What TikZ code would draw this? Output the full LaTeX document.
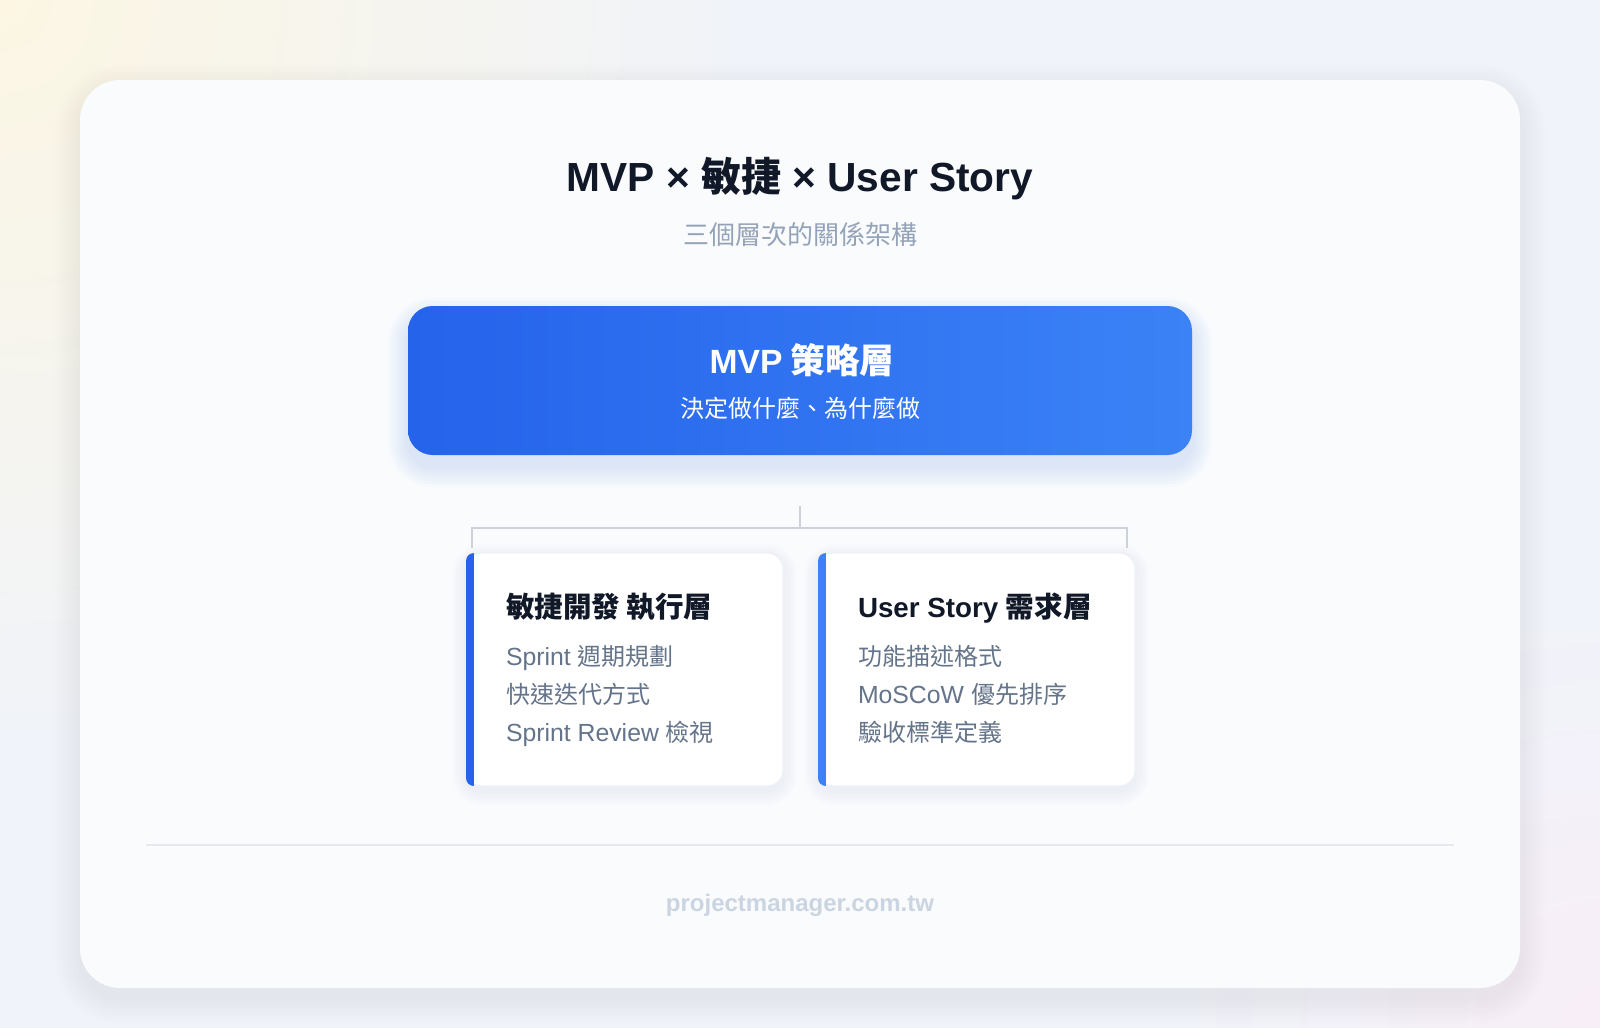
\documentclass[tikz,border=0pt]{standalone}
\usepackage{fontspec}
\setmainfont{Noto Sans CJK TC}
\newfontfamily\lat{Liberation Sans}
\newcommand\lt[2]{{\lat\fontsize{#1}{#1}\selectfont #2}}
\usetikzlibrary{calc}
\definecolor{bgc}{HTML}{F0F3F9}
\definecolor{warm}{HTML}{FCF6E3}
\definecolor{pinkish}{HTML}{F8EEF8}
\definecolor{cardc}{HTML}{FAFBFD}
\definecolor{ink}{HTML}{111827}
\definecolor{subc}{HTML}{94A3B8}
\definecolor{itemc}{HTML}{64748B}
\definecolor{footc}{HTML}{CBD5E1}
\definecolor{connc}{HTML}{CDD2DA}
\definecolor{sepc}{HTML}{E6E9EE}
\definecolor{blueA}{HTML}{2563EB}
\definecolor{blueB}{HTML}{3B82F6}
\definecolor{cardline}{HTML}{EEF1F5}
\definecolor{shadc}{HTML}{64748B}
\begin{document}
\begin{tikzpicture}[x=0.75pt,y=-0.75pt,
  every node/.style={inner sep=0pt,outer sep=0pt},
  titletxt/.style={font=\bfseries\fontsize{30pt}{34pt}\selectfont,text=ink},
  subtxt/.style={font=\fontsize{19.5pt}{22pt}\selectfont,text=subc},
  mvpbox/.style={rectangle,rounded corners=18.5pt,left color=blueA,right color=blueB,
    minimum width=588pt,minimum height=111.75pt},
  glow/.style={fill=blueA,fill opacity=0.018},
  soft/.style={fill=shadc,fill opacity=0.006},
  faint/.style={fill=shadc,fill opacity=0.0045},
  mvptitle/.style={font=\bfseries\fontsize{26pt}{30pt}\selectfont,text=white},
  mvpsub/.style={font=\fontsize{18pt}{21pt}\selectfont,text=white},
  cardbox/.style={rectangle,rounded corners=12pt,fill=white,draw=cardline,line width=0.8pt,
    minimum width=237.75pt,minimum height=174.75pt},
  cardtitle/.style={font=\bfseries\fontsize{21.4pt}{24pt}\selectfont,text=ink,anchor=base west},
  itemtxt/.style={font=\fontsize{18pt}{21pt}\selectfont,text=itemc,anchor=base west},
  conn/.style={draw=connc,line width=1.5pt},
  foot/.style={font=\lat\bfseries\fontsize{18pt}{20pt}\selectfont,text=footc}
]
\useasboundingbox (0,0) rectangle (1600,1028);
% background
\fill[bgc] (0,0) rectangle (1600,1028);
\shade[inner color=warm,outer color=bgc] (0,0) circle (560pt);
\shade[inner color=pinkish,outer color=bgc] (1600,1028) circle (320pt);
% main card with soft shadow
\foreach \g in {2,4,...,26}
  \fill[faint,rounded corners=30pt+\g*0.75pt] (80-\g,80+10-\g) rectangle (1520+\g,988+10+\g);
\fill[cardc,rounded corners=30pt] (80,80) rectangle (1520,988);
% heading
\node[titletxt,anchor=base] (title) at (800,191) {\lt{30.5pt}{MVP × }敏捷\lt{30.5pt}{ × User Story}};
\node[subtxt,anchor=base] (sub) at (800,244) {三個層次的關係架構};
% MVP box glow
\foreach \g in {2,5,8,11,14,17,20}
  \fill[glow,rounded corners=18.5pt+\g*0.75pt] (408-\g,306+12-\g) rectangle (1192+\g,455+12+\g);
\node[mvpbox] (mvp) at (800,380.5) {};
\node[mvptitle,anchor=base] (mvpt) at (802,373) {\lt{25.2pt}{MVP} 策略層};
\node[mvpsub,anchor=base] (mvps) at (800,417) {決定做什麼、為什麼做};
% card shadows
\foreach \cx in {466,818}
  \foreach \g in {2,4,...,14}
    \fill[soft,rounded corners=12pt+\g*0.75pt] (\cx-\g,553+5-\g) rectangle (\cx+317+\g,786+5+\g);
% cards
\node[cardbox] (agile) at (624.5,669.5) {};
\node[cardbox] (story) at (976.5,669.5) {};
\begin{scope}
  \clip[rounded corners=6pt] (466,553) rectangle (500,786);
  \fill[blueA] (466,553) rectangle (474,786);
\end{scope}
\begin{scope}
  \clip[rounded corners=6pt] (818,553) rectangle (852,786);
  \fill[blueB] (818,553) rectangle (826,786);
\end{scope}
\node[cardtitle] (at) at (506,617) {敏捷開發 執行層};
\node[itemtxt] (a1) at (506,665.5) {\lt{18.6pt}{Sprint }週期規劃};
\node[itemtxt] (a2) at (506,703.5) {快速迭代方式};
\node[itemtxt] (a3) at (506,741.5) {\lt{18.6pt}{Sprint Review }檢視};
\node[cardtitle] (st) at (858,617) {\lt{20.8pt}{User Story }需求層};
\node[itemtxt] (s1) at (858,665.5) {功能描述格式};
\node[itemtxt] (s2) at (858,703.5) {\lt{18.6pt}{MoSCoW }優先排序};
\node[itemtxt] (s3) at (858,741.5) {驗收標準定義};
% connectors
\coordinate (jt) at (800,506);
\coordinate (jm) at (800,528);
\coordinate (jl) at (472,528);
\coordinate (jr) at (1127,528);
\draw[conn] (jt) -- (jm);
\draw[conn,shorten <=3.75pt,shorten >=3.75pt] (jl |- agile.north) -- (jl) -- (jr) -- (jr |- story.north);
% separator and footer
\draw[sepc,line width=1.5pt] (146,845) -- (1454,845);
\node[foot,anchor=base] (ft) at (800,911) {projectmanager.com.tw};
\end{tikzpicture}
\end{document}
